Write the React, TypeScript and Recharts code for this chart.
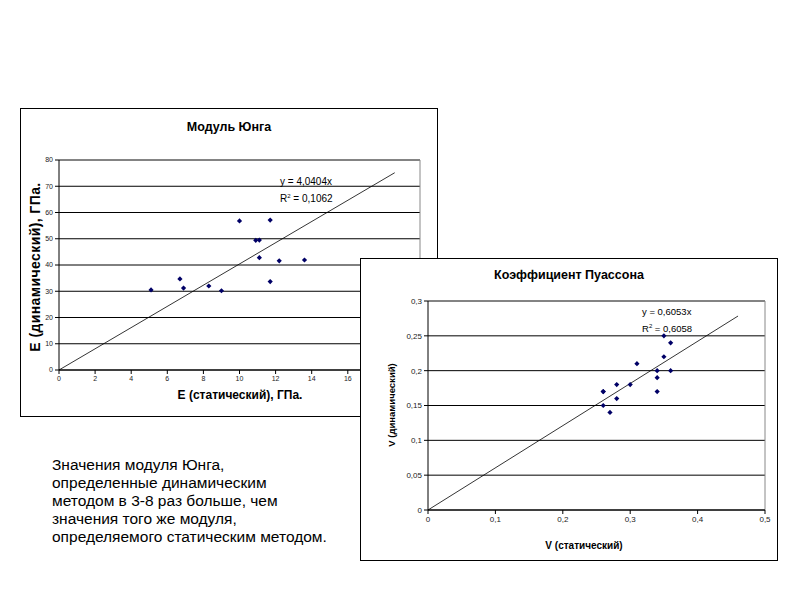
import React from "react";
import { CartesianGrid, ReferenceLine, Scatter, ScatterChart, XAxis, YAxis } from "recharts";

// Модуль Юнга: E статический / E динамический, ГПа
const youngStatic = [5.1, 6.7, 6.9, 8.3, 9.0, 10.0, 10.9, 11.1, 11.1, 11.7, 11.7, 12.2, 13.6];
const youngDynamic = [30.5, 34.7, 31.2, 32.0, 30.2, 56.8, 49.4, 49.5, 42.8, 57.1, 33.7, 41.6, 41.9];
const youngSlope = 4.0404;
const youngTrendX = [0, 18.6];
const youngXTicks = [0, 2, 4, 6, 8, 10, 12, 14, 16, 18, 20];
const youngYTicks = [0, 10, 20, 30, 40, 50, 60, 70, 80];

// Коэффициент Пуассона: V статический / V динамический
const poissonStatic = [0.26, 0.26, 0.26, 0.27, 0.28, 0.28, 0.3, 0.31, 0.34, 0.34, 0.34, 0.35, 0.35, 0.36, 0.36];
const poissonDynamic = [0.17, 0.17, 0.15, 0.14, 0.18, 0.16, 0.18, 0.21, 0.2, 0.19, 0.17, 0.25, 0.22, 0.24, 0.2];
const poissonSlope = 0.6053;
const poissonTrendX = [0, 0.46];
const poissonXTicks = [0, 0.1, 0.2, 0.3, 0.4, 0.5];
const poissonYTicks = [0, 0.05, 0.1, 0.15, 0.2, 0.25, 0.3];

const FONT = "'Liberation Sans', Arial, sans-serif";
const comma = (v: number) => String(v).replace(".", ",");

const youngPoints = youngStatic.map((x, i) => ({ x, y: youngDynamic[i] }));
const youngTrend = youngTrendX.map((x) => ({ x, y: x * youngSlope }));
const poissonPoints = poissonStatic.map((x, i) => ({ x, y: poissonDynamic[i] }));
const poissonTrend = poissonTrendX.map((x) => ({ x, y: x * poissonSlope }));

// small Excel-style diamond marker
const Diamond = (props: any) => {
  const { cx, cy } = props;
  if (cx == null || cy == null) return <g />;
  const r = 2.6;
  return <polygon points={`${cx},${cy - r} ${cx + r},${cy} ${cx},${cy + r} ${cx - r},${cy}`} fill="#000066" />;
};

const abs = (left: number, top: number, extra: React.CSSProperties = {}): React.CSSProperties => ({
  position: "absolute",
  left,
  top,
  whiteSpace: "nowrap",
  fontFamily: FONT,
  color: "#000",
  ...extra,
});

function Box({ left, top, width, height, children }: { left: number; top: number; width: number; height: number; children: React.ReactNode }) {
  return (
    <div
      style={{
        position: "absolute",
        left,
        top,
        width,
        height,
        boxSizing: "border-box",
        border: "1px solid #000",
        background: "#fff",
      }}
    >
      {children}
    </div>
  );
}

export default function App() {
  const tick1 = { fontSize: 7, fill: "#222", fontFamily: FONT };
  const tick2 = { fontSize: 8, fill: "#222", fontFamily: FONT };
  return (
    <div style={{ position: "absolute", left: 0, top: 0, width: 800, height: 600, background: "#fff", overflow: "hidden" }}>
      <Box left={20} top={108} width={418} height={309}>
        <ScatterChart width={416} height={307} margin={{ top: 51, right: 17, bottom: 26, left: 8 }}>
          <CartesianGrid vertical={false} stroke="#000" strokeWidth={1} />
          <XAxis
            type="number"
            dataKey="x"
            domain={[0, 20]}
            ticks={youngXTicks}
            height={20}
            tick={tick1}
            tickSize={4}
            tickLine={{ stroke: "#000" }}
            axisLine={{ stroke: "#000" }}
            interval={0}
          />
          <YAxis
            type="number"
            dataKey="y"
            domain={[0, 80]}
            ticks={youngYTicks}
            width={30}
            tick={tick1}
            tickSize={4}
            tickLine={{ stroke: "#000" }}
            axisLine={{ stroke: "#000" }}
            interval={0}
          />
          <ReferenceLine y={80} stroke="#888" />
          <ReferenceLine x={20} stroke="#888" />
          <Scatter data={youngTrend} line={{ stroke: "#000", strokeWidth: 0.8 }} shape={() => <g />} isAnimationActive={false} />
          <Scatter data={youngPoints} fill="#000066" shape={Diamond} isAnimationActive={false} />
        </ScatterChart>
        <div style={abs(0, 11, { width: 416, textAlign: "center", fontSize: 12.5, fontWeight: "bold" })}>Модуль Юнга</div>
        <div style={abs(259, 65, { fontSize: 10, lineHeight: "15px" })}>
          y = 4,0404x
          <br />
          R<sup style={{ fontSize: 6 }}>2</sup> = 0,1062
        </div>
        <div
          style={abs(14, 158, {
            fontSize: 14,
            fontWeight: "bold",
            transform: "translate(-50%, -50%) rotate(-90deg)",
            letterSpacing: 0.4,
          })}
        >
          E (динамический), ГПа.
        </div>
        <div style={abs(0, 286, { width: 438, textAlign: "center", fontSize: 12, fontWeight: "bold", transform: "translateY(-50%)" })}>
          E (статический), ГПа.
        </div>
      </Box>

      <div style={abs(52, 456, { fontSize: 15.5, lineHeight: "18px" })}>
        Значения модуля Юнга,
        <br />
        определенные динамическим
        <br />
        методом в 3-8 раз больше, чем
        <br />
        значения того же модуля,
        <br />
        определяемого статическим методом.
      </div>

      <Box left={360} top={258} width={418} height={303}>
        <ScatterChart width={416} height={301} margin={{ top: 42, right: 12, bottom: 30, left: 31 }}>
          <CartesianGrid vertical={false} stroke="#000" strokeWidth={1} />
          <XAxis
            type="number"
            dataKey="x"
            domain={[0, 0.5]}
            ticks={poissonXTicks}
            height={20}
            tick={tick2}
            tickFormatter={comma}
            tickSize={4}
            tickLine={{ stroke: "#000" }}
            axisLine={{ stroke: "#000" }}
            interval={0}
          />
          <YAxis
            type="number"
            dataKey="y"
            domain={[0, 0.3]}
            ticks={poissonYTicks}
            width={36}
            tick={tick2}
            tickFormatter={comma}
            tickSize={4}
            tickLine={{ stroke: "#000" }}
            axisLine={{ stroke: "#000" }}
            interval={0}
          />
          <ReferenceLine y={0.3} stroke="#888" />
          <ReferenceLine x={0.5} stroke="#888" />
          <Scatter data={poissonTrend} line={{ stroke: "#000", strokeWidth: 0.8 }} shape={() => <g />} isAnimationActive={false} />
          <Scatter data={poissonPoints} fill="#000066" shape={Diamond} isAnimationActive={false} />
        </ScatterChart>
        <div style={abs(0, 9, { width: 416, textAlign: "center", fontSize: 12.5, fontWeight: "bold" })}>Коэффициент Пуассона</div>
        <div style={abs(281, 46, { fontSize: 9.5, lineHeight: "14px" })}>
          y = 0,6053x
          <br />
          R<sup style={{ fontSize: 6 }}>2</sup> = 0,6058
        </div>
        <div
          style={abs(30, 146, {
            fontSize: 9.5,
            fontWeight: "bold",
            transform: "translate(-50%, -50%) rotate(-90deg)",
          })}
        >
          V (динамический)
        </div>
        <div style={abs(223, 286, { fontSize: 10, fontWeight: "bold", transform: "translate(-50%, -50%)" })}>
          V (статический)
        </div>
      </Box>
    </div>
  );
}
